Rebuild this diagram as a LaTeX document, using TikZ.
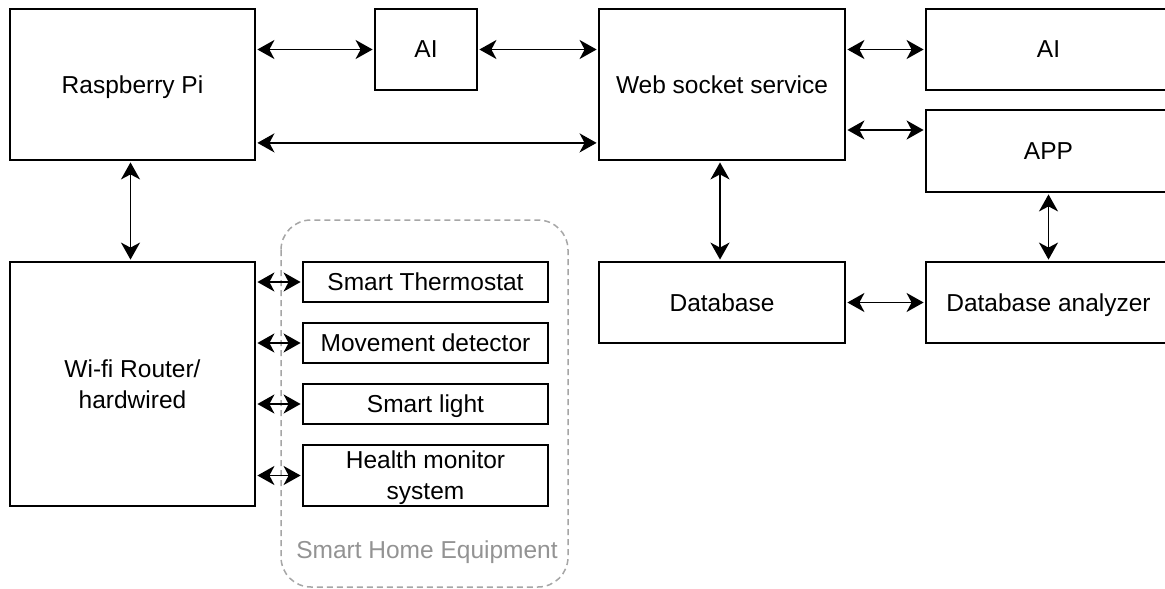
\documentclass[tikz,border=0pt]{standalone}
\usepackage{fontspec}
\setmainfont{Liberation Sans}
\usetikzlibrary{arrows.meta}
\begin{document}
\begin{tikzpicture}[x=1pt,y=-1pt,
  box/.style={draw=black,line width=1.8pt,fill=white,inner sep=0pt,align=center,
    font=\fontsize{24.5}{31}\selectfont,text depth=0pt},
  biarrow/.style={line width=1.9pt,{Stealth[length=17pt,width=19pt,inset=5pt]}-{Stealth[length=17pt,width=19pt,inset=5pt]},
    shorten <=1.5pt,shorten >=1.5pt},
  group/.style={draw=gray!70,line width=1.5pt,dash pattern=on 6pt off 4pt,rounded corners=30pt}]
\useasboundingbox (0,0) rectangle (1165,589);
\fill[white] (0,0) rectangle (1165,589);
% container
\draw[group] (281,220) rectangle (568,587);
\node[text=gray!85,font=\fontsize{24.5}{31}\selectfont,text depth=0pt] (grp) at (427,550) {Smart Home Equipment};
% nodes
\node[box,minimum width=245pt,minimum height=151pt] (rpi) at (132.5,84.5) {Raspberry Pi};
\node[box,minimum width=102pt,minimum height=81pt] (ai1) at (426,49.5) {AI};
\node[box,minimum width=246pt,minimum height=151pt] (ws) at (722,84.5) {Web socket service};
\node[box,minimum width=245pt,minimum height=81pt] (ai2) at (1048.5,49.5) {AI};
\node[box,minimum width=245pt,minimum height=82pt] (app) at (1048.5,151) {APP};
\node[box,minimum width=245pt,minimum height=244pt] (wifi) at (132.5,384) {Wi-fi Router/\\hardwired};
\node[box,minimum width=245pt,minimum height=40pt] (st) at (425.5,282) {Smart Thermostat};
\node[box,minimum width=245pt,minimum height=40pt] (md) at (425.5,343) {Movement detector};
\node[box,minimum width=245pt,minimum height=40pt] (sl) at (425.5,404) {Smart light};
\node[box,minimum width=245pt,minimum height=61pt] (hm) at (425.5,475.5) {Health monitor\\system};
\node[box,minimum width=246pt,minimum height=81pt] (db) at (722,302.5) {Database};
\node[box,minimum width=245pt,minimum height=81pt] (dba) at (1048.5,302.5) {Database analyzer};
% connectors
\coordinate (rpilow) at ([yshift=18pt]rpi.south east);
\coordinate (appup) at ([yshift=21pt]app.west);
\draw[biarrow] (rpi.east |- ai1.west) -- (ai1.west);
\draw[biarrow] (ai1.east) -- (ws.west |- ai1.east);
\draw[biarrow] (rpilow) -- (ws.west |- rpilow);
\draw[biarrow] (ws.east |- ai2.west) -- (ai2.west);
\draw[biarrow] (ws.east |- appup) -- (appup);
\draw[biarrow] ([xshift=-2pt]rpi.south) -- ([xshift=-2pt]wifi.north);
\draw[biarrow] ([xshift=-2pt]ws.south) -- ([xshift=-2pt]db.north);
\draw[biarrow] (app.south) -- (dba.north);
\draw[biarrow] (db.east) -- (dba.west);
\draw[biarrow] (wifi.east |- st.west) -- (st.west);
\draw[biarrow] (wifi.east |- md.west) -- (md.west);
\draw[biarrow] (wifi.east |- sl.west) -- (sl.west);
\draw[biarrow] (wifi.east |- hm.west) -- (hm.west);
\end{tikzpicture}
\end{document}
